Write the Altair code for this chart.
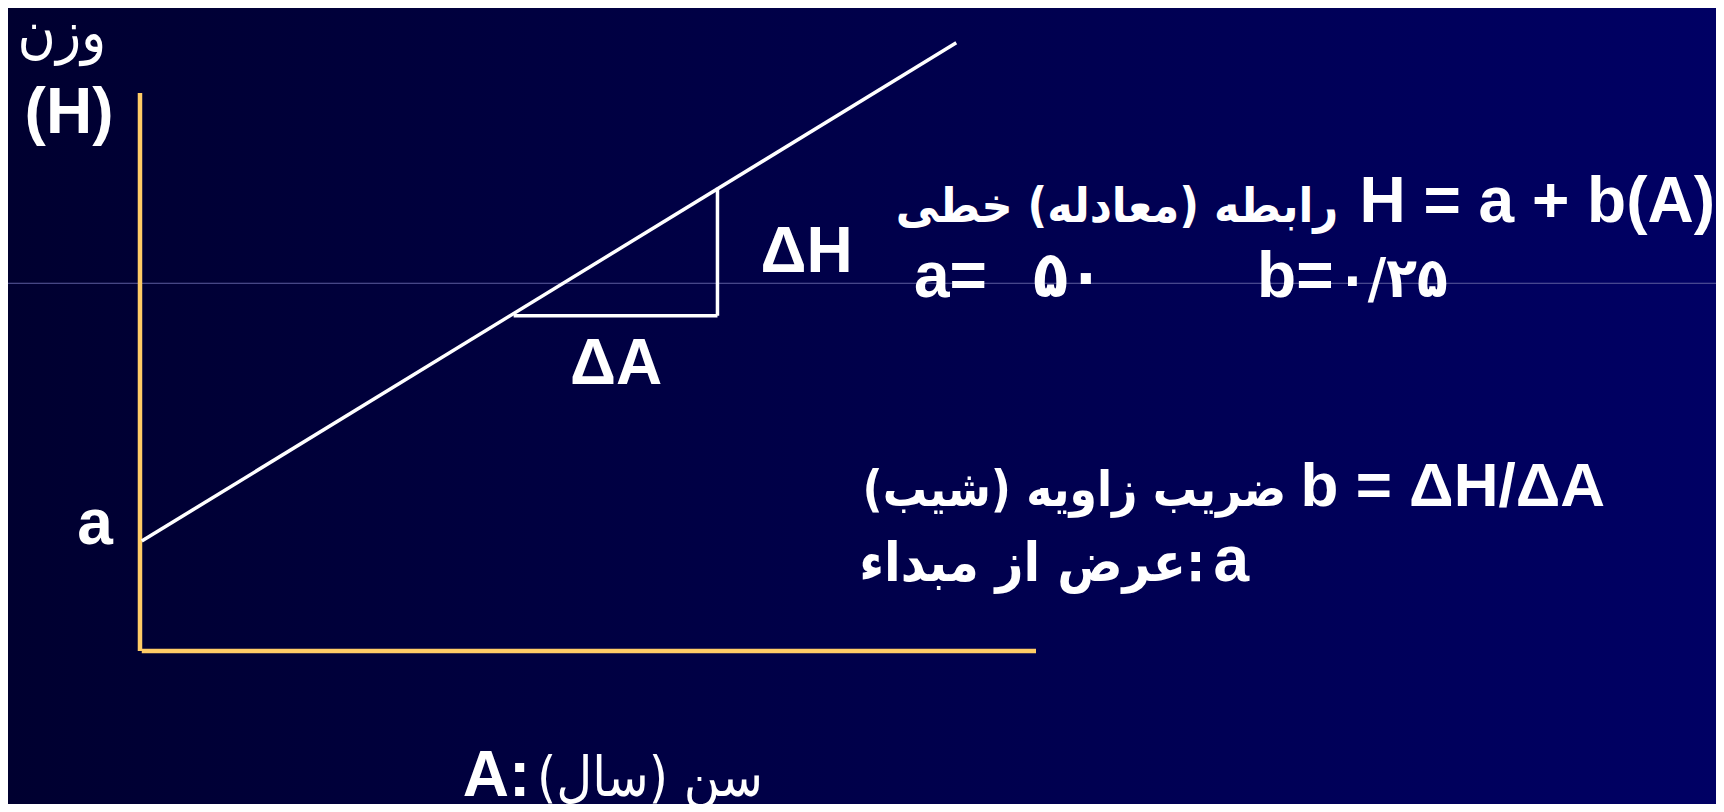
import altair as alt
import pandas as pd

# ---- diagram domain (A = age, H = weight), chosen so the axes run 0..100 ----
A_DOMAIN = [-14.73, 175.89]
H_DOMAIN = [-27.42, 115.23]

# yellow axes
axes_A = [0.0, 0.2]
axes_H = [0.0, 0.0]
axes_A2 = [0.0, 100.0]
axes_H2 = [100.0, 0.0]

# regression line H = a + b*A
line_A = [0.2, 91.1]
line_H = [19.7, 109.0]

# slope triangle (ΔA horizontal, ΔH vertical)
tri_A = [41.7, 64.45]
tri_H = [60.1, 60.1]
tri_A2 = [64.45, 64.45]
tri_H2 = [60.1, 83.0]

# faint guide line across the slide
guide_H = [65.9]

# ---- labels ----
LATIN = "Liberation Sans, Arial"
PERSIAN = "DejaVu Sans Condensed, DejaVu Sans"

lbl_text = [
    "(H)", "a", "ΔH", "ΔA",
    "وزن",
    "H = a + b(A)", "رابطه (معادله) خطی",
    "a=", "۵۰", "b=", "۰/۲۵",
    "b = ΔH/ΔA", "ضریب زاویه (شیب)\u200f",
    "a", "عرض از مبداء:",
    "A:", "سن (سال)\u200f",
]
lbl_A = [
    -7.92, -5.02, 74.39, 53.13,
    -8.71,
    175.78, 133.71,
    86.38, 99.67, 124.67, 133.59,
    163.5, 127.9,
    123.77, 118.9,
    36.02, 69.53,
]
lbl_H = [
    92.83, 19.18, 67.92, 47.85,
    107.4,
    76.88, 76.88,
    63.44, 63.44, 63.44, 63.44,
    25.99, 25.99,
    12.54, 12.54,
    -25.9, -25.9,
]
lbl_align = [
    "center", "center", "center", "center",
    "center",
    "right", "right",
    "left", "left", "left", "left",
    "right", "right",
    "right", "right",
    "left", "right",
]
lbl_weight = [
    "bold", "bold", "bold", "bold",
    "normal",
    "bold", "bold",
    "bold", "bold", "bold", "bold",
    "bold", "bold",
    "bold", "bold",
    "bold", "normal",
]
lbl_size = [
    64, 64, 64, 64,
    58,
    64, 48,
    64, 64, 64, 56,
    62, 49,
    64, 54,
    64, 55,
]
lbl_font = [
    LATIN, LATIN, LATIN, LATIN,
    PERSIAN,
    LATIN, PERSIAN,
    LATIN, PERSIAN, LATIN, PERSIAN,
    LATIN, PERSIAN,
    LATIN, PERSIAN,
    LATIN, PERSIAN,
]

YELLOW = "#FFCC66"
WHITE = "#FFFFFF"


def xs(field="A"):
    return alt.X(f"{field}:Q", scale=alt.Scale(domain=A_DOMAIN, nice=False, zero=False), axis=None)


def ys(field="H"):
    return alt.Y(f"{field}:Q", scale=alt.Scale(domain=H_DOMAIN, nice=False, zero=False), axis=None)


bg_df = pd.DataFrame({"A": [A_DOMAIN[0]], "A2": [A_DOMAIN[1]], "H": [H_DOMAIN[0]], "H2": [H_DOMAIN[1]]})
axes_df = pd.DataFrame({"A": axes_A, "H": axes_H, "A2": axes_A2, "H2": axes_H2})
line_df = pd.DataFrame({"A": line_A, "H": line_H})
tri_df = pd.DataFrame({"A": tri_A, "H": tri_H, "A2": tri_A2, "H2": tri_H2})
guide_df = pd.DataFrame({"H": guide_H})

bg_grad = alt.LinearGradient(
    gradient="linear", x1=0, y1=0, x2=1, y2=0,
    stops=[alt.GradientStop(offset=0, color="#000030"), alt.GradientStop(offset=1, color="#000064")],
)

bg = alt.Chart(bg_df).mark_rect(color=bg_grad).encode(x=xs(), x2="A2:Q", y=ys(), y2="H2:Q")

guide = alt.Chart(guide_df).mark_rule(color="#5C5C9E", strokeWidth=1).encode(y=ys())

axes = alt.Chart(axes_df).mark_rule(color=YELLOW, strokeWidth=4.5).encode(
    x=xs(), y=ys(), x2="A2:Q", y2="H2:Q"
)

line = alt.Chart(line_df).mark_line(color=WHITE, strokeWidth=3.5).encode(x=xs(), y=ys())

tri = alt.Chart(tri_df).mark_rule(color=WHITE, strokeWidth=3.5).encode(
    x=xs(), y=ys(), x2="A2:Q", y2="H2:Q"
)

text_layers = []
for t, a, h, al, w, s, f in zip(lbl_text, lbl_A, lbl_H, lbl_align, lbl_weight, lbl_size, lbl_font):
    df = pd.DataFrame({"t": [t], "A": [a], "H": [h]})
    text_layers.append(
        alt.Chart(df).mark_text(
            align=al, baseline="alphabetic", font=f, fontWeight=w, fontSize=s, color=WHITE
        ).encode(x=xs(), y=ys(), text="t:N")
    )

chart = (
    alt.layer(bg, guide, axes, line, tri, *text_layers)
    .properties(
        width=1708, height=796, padding=0,
        autosize=alt.AutoSizeParams(type="none"),
        background="#000040",
    )
    .configure_view(stroke=None)
)

chart.save("out.html", embed_options={"renderer": "svg", "actions": False})
